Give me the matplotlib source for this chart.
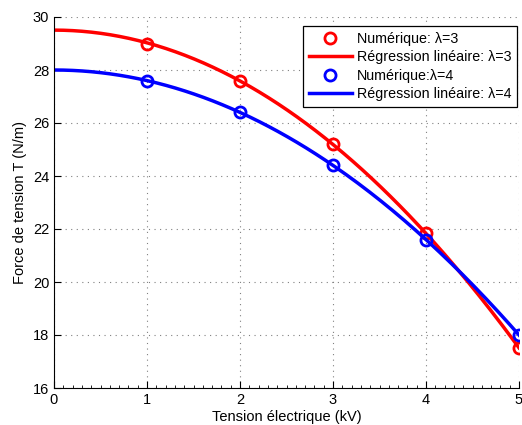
import matplotlib
matplotlib.use("Agg")
import matplotlib.pyplot as plt
import numpy as np
from matplotlib.ticker import MultipleLocator

plt.rcParams['font.family'] = ['Liberation Sans', 'DejaVu Sans']

# tension (kV) and measured force (N/m)
tension = np.array([1, 2, 3, 4, 5])
force_l3 = np.array([29.0, 27.6, 25.2, 21.85, 17.5])
force_l4 = np.array([27.6, 26.4, 24.4, 21.6, 18.0])

x_fit = np.linspace(0, 5, 200)


def fit_quad(x, y):
    # least squares y = a + b*x^2
    A = np.column_stack([np.ones_like(x, dtype=float), x.astype(float) ** 2])
    coef, *_ = np.linalg.lstsq(A, y, rcond=None)
    return coef[0] + coef[1] * x_fit ** 2


fig = plt.figure(figsize=(5.22, 4.25), dpi=100)
ax = fig.add_axes([54 / 522, 1 - 388 / 425, 465 / 522, 371 / 425])

ax.plot(tension, force_l3, 'o', color='red', mfc='none', mew=2, ms=8, label='Numérique: λ=3')
ax.plot(x_fit, fit_quad(tension, force_l3), '-', color='red', lw=2.5, label='Régression linéaire: λ=3')
ax.plot(tension, force_l4, 'o', color='blue', mfc='none', mew=2, ms=8, label='Numérique:λ=4')
ax.plot(x_fit, fit_quad(tension, force_l4), '-', color='blue', lw=2.5, label='Régression linéaire: λ=4')

ax.set_xlim(0, 5)
ax.set_ylim(16, 30)
ax.set_xticks(range(0, 6))
ax.set_yticks(range(16, 31, 2))
ax.xaxis.set_minor_locator(MultipleLocator(0.1))
ax.tick_params(direction='in', length=5, labelsize=10.5, width=0.8)
ax.tick_params(which='minor', direction='in', length=2.5, width=0.6)
ax.grid(True, linestyle=(0, (1, 4)), color='gray', lw=0.8)
ax.spines['top'].set_visible(False)
ax.spines['right'].set_visible(False)

ax.set_xlabel('Tension électrique (kV)', fontsize=10.5, labelpad=2)
ax.set_ylabel('Force de tension T (N/m)', fontsize=10.5, labelpad=4)

leg = ax.legend(loc='upper right', bbox_to_anchor=(0.9957, 0.9757), borderaxespad=0,
                fontsize=10.3, fancybox=False, edgecolor='black', framealpha=1,
                handlelength=3.0, borderpad=0.4, labelspacing=0.32, handletextpad=0.35)
leg.get_frame().set_linewidth(0.9)

fig.savefig('out.png', dpi=100)
